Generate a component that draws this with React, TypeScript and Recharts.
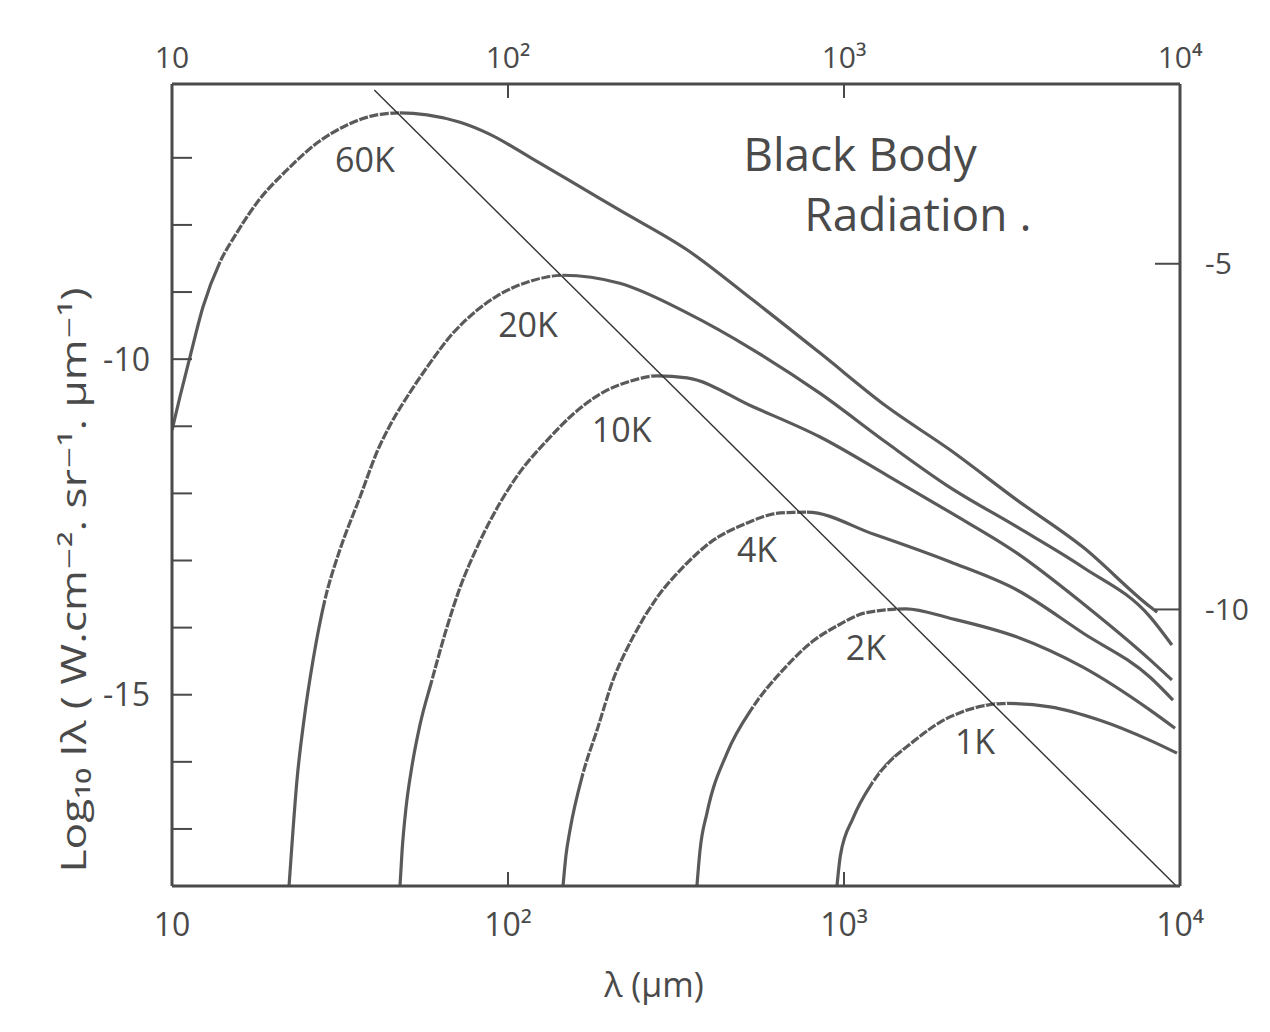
import { LineChart, Line, XAxis, YAxis, ReferenceDot } from "recharts";

// wavelength in μm, intensity as log10 I(λ)
const lambda60K = [10, 10.56, 11.31, 12.37, 13.9, 15.62, 18.27, 22, 27, 33.2, 40.7, 47.7, 57.4, 72, 88.4, 117, 154, 215, 341, 536, 849, 1343, 2066, 3273, 5140, 8147, 8551];
const logI60K = [-11.06, -10.56, -9.97, -9.22, -8.55, -8.11, -7.61, -7.18, -6.78, -6.51, -6.36, -6.33, -6.36, -6.47, -6.65, -7.0, -7.35, -7.78, -8.37, -9.12, -9.91, -10.71, -11.35, -12.1, -12.8, -13.69, -13.77];

const lambda20K = [22.3, 22.8, 23.55, 24.7, 26.3, 28.5, 31.6, 36.3, 41, 44.6, 50.1, 57.4, 68.6, 80.8, 94.7, 116.3, 145.8, 215, 341, 536, 849, 1343, 2066, 3273, 5140, 8147, 9462];
const logI20K = [-17.85, -17.17, -16.27, -15.38, -14.48, -13.59, -12.84, -12.05, -11.35, -10.98, -10.56, -10.12, -9.61, -9.27, -9.03, -8.84, -8.75, -8.87, -9.31, -9.86, -10.51, -11.25, -11.91, -12.5, -13.1, -13.84, -14.26];

const lambda10K = [47.7, 48.4, 49.7, 51.8, 54.7, 59.4, 65.4, 72, 82.5, 94.7, 108.6, 130.7, 156.1, 187.8, 230.8, 277.7, 341, 536, 849, 1343, 2066, 3273, 5140, 8147, 9462];
const logI10K = [-17.85, -17.32, -16.69, -16.06, -15.45, -14.78, -14.04, -13.4, -12.71, -12.14, -11.68, -11.21, -10.82, -10.52, -10.33, -10.25, -10.28, -10.71, -11.16, -11.73, -12.28, -12.89, -13.64, -14.48, -14.78];

const lambda4K = [145.8, 148.8, 152.9, 167.2, 184, 205.4, 235.5, 277.7, 331.8, 407.5, 514.5, 645, 776, 1228, 2066, 3273, 5140, 8147, 9530];
const logI4K = [-17.85, -17.39, -17.02, -16.17, -15.53, -14.78, -14.14, -13.55, -13.1, -12.7, -12.44, -12.29, -12.28, -12.61, -13.02, -13.44, -14.08, -14.74, -15.08];

const lambda2K = [365, 372.8, 391.1, 448.5, 536, 658.5, 808.5, 973, 1155, 1529, 2066, 3273, 5140, 8147, 9665];
const logI2K = [-17.85, -17.32, -16.76, -15.87, -15.18, -14.63, -14.2, -13.95, -13.78, -13.72, -13.86, -14.14, -14.59, -15.23, -15.5];

const lambda1K = [953, 976, 1064, 1219, 1615, 2066, 3055, 4102, 5778, 8147, 9795];
const logI1K = [-17.85, -17.39, -16.84, -16.3, -15.69, -15.33, -15.13, -15.18, -15.38, -15.68, -15.87];

// Wien displacement line through the peaks
const wienLambda = [40, 9700];
const wienLogI = [-5.99, -17.84];

const xTicks = [10, 100, 1000, 10000];
const xTickText: Record<number, string> = { 10: "10", 100: "10²", 1000: "10³", 10000: "10⁴" };
const leftTicks = [-7, -8, -9, -10, -11, -12, -13, -14, -15, -16, -17];
const leftTickLabels = [-10, -15];
const rightTicks = [-5, -10];

const curveNames = ["60K", "20K", "10K", "4K", "2K", "1K"];
// where each temperature label sits (λ, log I)
const labelLambda = [37.5, 114.7, 218, 551, 1162, 2455];
const labelLogI = [-7.03, -9.49, -11.06, -12.84, -14.31, -15.71];

// the pencil line is broken on the rising side up to the peak (point indices)
const brokenFrom = [4, 5, 5, 3, 4, 3];
const brokenTo = [11, 16, 15, 12, 9, 6];

const toPoints = (lambda: number[], logI: number[]) =>
  lambda.map((l, i) => ({ lambda: l, logI: logI[i] }));

const curves = [
  toPoints(lambda60K, logI60K),
  toPoints(lambda20K, logI20K),
  toPoints(lambda10K, logI10K),
  toPoints(lambda4K, logI4K),
  toPoints(lambda2K, logI2K),
  toPoints(lambda1K, logI1K),
];
const wien = toPoints(wienLambda, wienLogI);

const INK = "#4a4a4a";
const PENCIL = "#5a5a5a";
const FONT = "'Open Sans', 'DejaVu Sans', sans-serif";

const XLabel = (props: any) => {
  const vb = props.viewBox;
  return (
    <text x={vb.x + vb.width / 2 - 22} y={vb.y + 111} textAnchor="middle" fontSize={34} fill={INK} fontFamily={FONT}>
      λ (μm)
    </text>
  );
};

const YLabel = (props: any) => {
  const vb = props.viewBox;
  const x = vb.x + 86;
  const y = vb.y + 496;
  return (
    <text
      x={x}
      y={y}
      transform={`rotate(-90 ${x} ${y})`}
      textAnchor="middle"
      fontSize={34}
      fill={INK}
      fontFamily={FONT}
      textLength={585}
      lengthAdjust="spacingAndGlyphs"
    >
      Log₁₀ Iλ  ( W.cm⁻². sr⁻¹. μm⁻¹)
    </text>
  );
};

export default function App() {
  return (
    <div style={{ position: "absolute", left: 0, top: 0, background: "#fff" }}>
      <LineChart width={1270} height={1032} margin={{ top: 0, right: 0, bottom: 0, left: 0 }} style={{ fontFamily: FONT }}>
        <XAxis
          dataKey="lambda"
          type="number"
          scale="log"
          domain={[10, 10000]}
          allowDataOverflow
          ticks={xTicks}
          tickFormatter={(v) => xTickText[v] ?? ""}
          height={146}
          axisLine={{ stroke: INK, strokeWidth: 3 }}
          tickLine={{ stroke: INK, strokeWidth: 2 }}
          tickSize={-14}
          tickMargin={41}
          tick={{ fill: INK, fontSize: 32 }}
          label={XLabel}
        />
        <XAxis
          xAxisId="top"
          orientation="top"
          dataKey="lambda"
          type="number"
          scale="log"
          domain={[10, 10000]}
          allowDataOverflow
          ticks={xTicks}
          tickFormatter={(v) => xTickText[v] ?? ""}
          height={84}
          axisLine={{ stroke: INK, strokeWidth: 3 }}
          tickLine={{ stroke: INK, strokeWidth: 2 }}
          tickSize={-14}
          tickMargin={30}
          tick={{ fill: INK, fontSize: 30 }}
        />
        <YAxis
          type="number"
          domain={[-17.85, -5.9]}
          allowDataOverflow
          ticks={leftTicks}
          tickFormatter={(v) => (leftTickLabels.includes(v) ? String(v) : "")}
          width={172}
          axisLine={{ stroke: INK, strokeWidth: 3 }}
          tickLine={{ stroke: INK, strokeWidth: 2 }}
          tickSize={-20}
          tickMargin={42}
          tick={{ fill: INK, fontSize: 32 }}
          label={YLabel}
        />
        <YAxis
          yAxisId="right"
          orientation="right"
          type="number"
          domain={[-14, -2.4]}
          allowDataOverflow
          ticks={rightTicks}
          width={90}
          axisLine={{ stroke: INK, strokeWidth: 3 }}
          tickLine={{ stroke: INK, strokeWidth: 2 }}
          tickSize={-25}
          tickMargin={50}
          tick={{ fill: INK, fontSize: 30 }}
        />
        {curves.map((pts, i) => (
          <Line
            key={curveNames[i]}
            data={pts}
            dataKey="logI"
            name={curveNames[i]}
            type="monotone"
            stroke={PENCIL}
            strokeWidth={3.2}
            dot={false}
            isAnimationActive={false}
          />
        ))}
        {/* small paper-coloured gaps along the rising part, like the broken pencil stroke */}
        {curves.map((pts, i) => (
          <Line
            key={curveNames[i] + "-gaps"}
            data={pts.slice(brokenFrom[i], brokenTo[i] + 1)}
            dataKey="logI"
            type="monotone"
            stroke="#ffffff"
            strokeWidth={4.2}
            strokeDasharray="1.6 9"
            dot={false}
            isAnimationActive={false}
          />
        ))}
        <Line
          data={wien}
          dataKey="logI"
          type="linear"
          stroke="#333"
          strokeWidth={1.4}
          dot={false}
          isAnimationActive={false}
        />
        {curveNames.map((name, i) => (
          <ReferenceDot
            key={"lbl" + name}
            x={labelLambda[i]}
            y={labelLogI[i]}
            r={0}
            fill="none"
            stroke="none"
            label={{ value: name, position: "center", fontSize: 34, fill: INK, fontFamily: FONT }}
          />
        ))}
        <ReferenceDot
          x={1116}
          y={-6.96}
          r={0}
          fill="none"
          stroke="none"
          label={{ value: "Black Body", position: "center", fontSize: 46, fill: INK, fontFamily: FONT }}
        />
        <ReferenceDot
          x={1660}
          y={-7.85}
          r={0}
          fill="none"
          stroke="none"
          label={{ value: "Radiation .", position: "center", fontSize: 46, fill: INK, fontFamily: FONT }}
        />
      </LineChart>
    </div>
  );
}
